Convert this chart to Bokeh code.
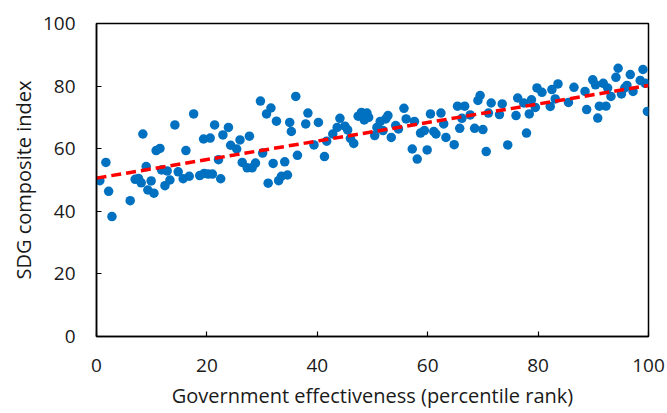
from bokeh.plotting import figure
from bokeh.models import Range1d, FixedTicker
from bokeh.embed import file_html
from bokeh.resources import INLINE

gov_eff = [
    0.6, 1.7, 2.2, 2.8, 6.1, 7.0, 7.6, 8.1, 8.4, 9.0, 9.3, 9.9, 10.4, 10.8, 11.5, 11.8,
    12.4, 12.8, 13.3, 14.2, 14.8, 15.7, 16.2, 16.8, 17.6, 18.7, 19.4, 19.5, 20.2, 20.6,
    21.0, 21.4, 22.1, 22.5, 22.9, 23.9, 24.3, 25.4, 26.0, 26.4,
    27.7, 27.3, 28.2, 28.8, 29.7, 30.1, 30.8, 31.1, 31.6, 32.0, 32.6, 33.0, 33.5, 34.1,
    34.6, 35.0, 35.3, 36.1, 36.4, 37.9, 38.3, 39.4, 40.2, 41.3, 41.7, 42.8, 43.6, 44.1,
    45.0, 45.5, 46.0, 46.6, 47.4, 48.0, 48.5, 49.0, 49.3, 50.4, 50.8,
    51.4, 51.9, 52.4, 52.8, 53.4, 54.2, 54.7, 55.7, 56.1, 57.2, 57.6, 58.1, 58.7, 59.4,
    59.9, 60.5, 61.1, 61.5, 62.4, 62.9, 63.3, 64.8, 65.4, 65.8, 66.2, 66.7, 67.7, 68.5,
    69.1, 69.5, 70.0, 70.6, 71.0, 71.5, 73.0, 73.5, 74.5, 76.0, 76.3,
    77.4, 77.9, 78.4, 78.8, 79.5, 79.8, 80.7, 82.2, 82.5, 83.1, 83.6, 85.5, 86.5, 88.5,
    88.8, 89.9, 90.4, 90.8, 91.1, 91.8, 92.3, 92.6, 93.2, 94.1, 94.5, 95.1, 95.7, 96.1,
    96.7, 97.2, 98.5, 99.0, 99.4, 99.8,
]
sdg_index = [
    49.8, 55.6, 46.4, 38.3, 43.4, 50.2, 50.5, 49.1, 64.7, 54.3, 46.8, 49.7, 45.8, 59.4, 60.1, 53.2,
    48.2, 52.9, 50.0, 67.6, 52.6, 50.4, 59.4, 51.2, 71.1, 51.4, 63.1, 52.1, 51.9, 63.4,
    51.9, 67.6, 56.5, 50.4, 64.4, 66.8, 61.1, 59.9, 62.8, 55.6,
    64.0, 53.9, 53.9, 55.4, 75.2, 58.6, 71.1, 49.0, 73.0, 55.3, 68.8, 49.8, 51.2, 55.8,
    51.6, 68.4, 65.5, 76.7, 57.9, 67.9, 71.4, 61.2, 68.4, 57.5, 62.4, 64.7, 66.8, 69.7,
    67.2, 66.0, 63.3, 61.7, 70.4, 71.6, 69.2, 71.4, 70.0, 64.2, 66.8,
    68.7, 65.8, 69.5, 70.6, 63.6, 67.4, 66.3, 72.9, 69.5, 59.9, 68.7, 56.7, 65.0, 65.8,
    59.6, 71.1, 65.5, 64.7, 71.4, 67.9, 63.6, 61.3, 73.6, 66.5, 69.7, 73.6, 70.8, 66.5,
    75.4, 77.0, 66.1, 59.1, 71.4, 74.6, 70.9, 74.3, 61.2, 70.6, 76.2,
    74.6, 65.0, 71.1, 75.6, 73.2, 79.4, 78.0, 73.5, 78.9, 75.9, 80.7, 74.8, 79.6, 78.3,
    72.5, 82.0, 80.4, 69.8, 73.6, 80.9, 73.6, 79.4, 76.7, 82.8, 85.7, 77.5, 79.4, 80.2,
    83.7, 78.3, 81.8, 85.3, 80.9, 71.9,
]
trend_x = [0, 100]
trend_y = [50.6, 80.2]
tick_values = [0, 20, 40, 60, 80, 100]

FONT = "Open Sans"

p = figure(width=667, height=413, output_backend="svg", toolbar_location=None,
           x_range=Range1d(0, 100), y_range=Range1d(0, 100),
           min_border_left=96, min_border_right=19, min_border_top=23, min_border_bottom=77)

p.scatter(gov_eff, sdg_index, size=9.5, fill_color="#0070C0", line_color="#0070C0", line_width=0)
p.line(trend_x, trend_y, line_color="#FF0000", line_width=3.5, line_dash="10 5")

p.xgrid.visible = False
p.ygrid.visible = False
p.outline_line_color = "black"
p.outline_line_width = 1.5
p.outline_line_alpha = 1.0

for ax in (p.xaxis[0], p.yaxis[0]):
    ax.ticker = FixedTicker(ticks=tick_values)
    ax.minor_tick_line_color = None
    ax.major_tick_in = 5
    ax.major_tick_out = 0
    ax.major_tick_line_color = "black"
    ax.major_tick_line_width = 1.2
    ax.axis_line_color = "black"
    ax.axis_line_width = 1.5
    ax.major_label_text_font = FONT
    ax.major_label_text_font_size = "19px"
    ax.major_label_text_color = "#1a1a1a"
    ax.axis_label_text_font = FONT
    ax.axis_label_text_font_size = "20px"
    ax.axis_label_text_font_style = "normal"
    ax.axis_label_text_color = "#1a1a1a"

p.xaxis[0].axis_label = "Government effectiveness (percentile rank)"
p.yaxis[0].axis_label = "SDG composite index"
p.xaxis[0].major_label_standoff = 22
p.yaxis[0].major_label_standoff = 21
p.xaxis[0].axis_label_standoff = 7
p.yaxis[0].axis_label_standoff = 3

open("out.html", "w").write(file_html(p, INLINE))
